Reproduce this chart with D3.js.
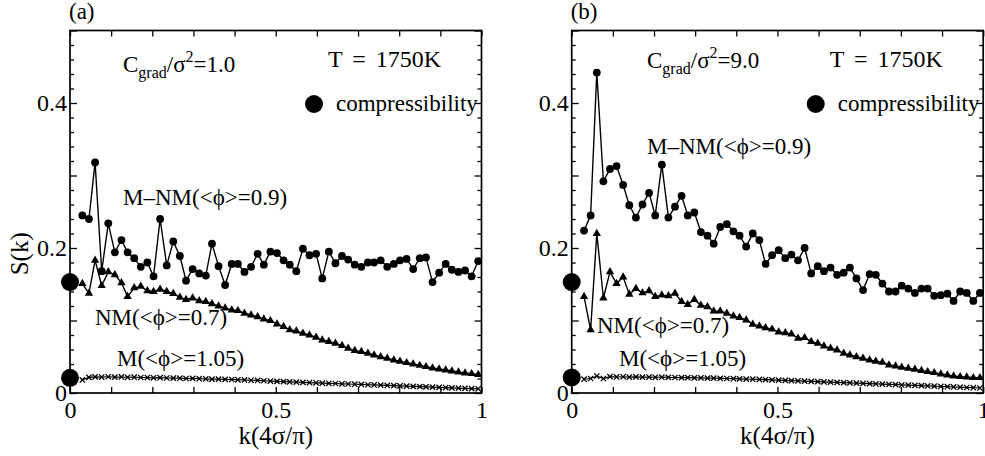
<!DOCTYPE html>
<html>
<head>
<meta charset="utf-8">
<script src="https://cdn.jsdelivr.net/npm/d3@7"></script>
<style>
  body { margin: 0; background: #fff; }
  svg text { font-family: "Liberation Serif", "Times New Roman", serif; fill: #000; }
</style>
</head>
<body>
<svg id="chart" width="985" height="456"></svg>
<script>
// wavenumber grid k (units of 4σ/π)
const kValues = [0.030,0.046,0.061,0.077,0.093,0.109,0.125,0.140,0.156,0.172,
  0.188,0.203,0.219,0.235,0.251,0.267,0.282,0.298,0.314,0.330,
  0.345,0.361,0.377,0.393,0.408,0.424,0.440,0.456,0.471,0.487,
  0.503,0.519,0.534,0.550,0.566,0.582,0.598,0.613,0.629,0.645,
  0.661,0.676,0.692,0.708,0.724,0.739,0.755,0.771,0.787,0.802,
  0.818,0.834,0.850,0.865,0.881,0.897,0.913,0.928,0.944,0.960,
  0.976,0.992];

// S(k), C_grad/σ² = 1.0
const mnmA = [0.245,0.240,0.318,0.168,0.234,0.194,0.211,0.194,0.186,0.174,
  0.180,0.161,0.240,0.176,0.209,0.189,0.155,0.171,0.165,0.162,
  0.206,0.175,0.149,0.178,0.178,0.167,0.174,0.192,0.177,0.195,
  0.193,0.183,0.177,0.168,0.199,0.190,0.192,0.158,0.195,0.179,
  0.189,0.184,0.177,0.174,0.180,0.180,0.183,0.174,0.178,0.183,
  0.185,0.171,0.186,0.187,0.153,0.166,0.178,0.170,0.167,0.169,
  0.161,0.182];
const nmA = [0.151,0.1375,0.183,0.148,0.167,0.163,0.152,0.133,0.145,0.147,
  0.141,0.140,0.143,0.140,0.137,0.132,0.129,0.131,0.127,0.126,
  0.123,0.120,0.117,0.1145,0.1135,0.110,0.1076,0.105,0.102,0.0997,
  0.095,0.0915,0.087,0.0855,0.0823,0.080,0.0768,0.0731,0.0708,0.0685,
  0.0653,0.0616,0.0584,0.057,0.0547,0.0524,0.050,0.0478,0.0455,0.0437,
  0.0418,0.040,0.038,0.0363,0.0345,0.0331,0.0317,0.0303,0.029,0.0276,
  0.0266,0.0253];
const mA = [0.018,0.0215,0.0222,0.0220,0.0224,0.0219,0.0221,0.0217,0.0218,0.0214,
  0.0213,0.0210,0.0211,0.0207,0.0206,0.0204,0.0200,0.0201,0.0197,0.0196,
  0.0192,0.0191,0.0188,0.0186,0.0182,0.0180,0.0176,0.0173,0.0169,0.0165,
  0.0160,0.0157,0.0154,0.0150,0.0147,0.0144,0.0141,0.0137,0.0134,0.0131,
  0.0127,0.0124,0.0121,0.0118,0.0114,0.0111,0.0108,0.0104,0.0101,0.0098,
  0.0095,0.0091,0.0088,0.0085,0.0081,0.0078,0.0075,0.0071,0.0068,0.0065,
  0.0061,0.0058];

// S(k), C_grad/σ² = 9.0
const mnmB = [0.224,0.245,0.442,0.292,0.309,0.313,0.287,0.259,0.242,0.260,
  0.276,0.245,0.315,0.242,0.257,0.272,0.245,0.249,0.222,0.217,
  0.206,0.229,0.233,0.223,0.217,0.202,0.220,0.211,0.178,0.190,
  0.197,0.186,0.191,0.183,0.200,0.165,0.175,0.168,0.173,0.163,
  0.166,0.173,0.158,0.142,0.164,0.163,0.151,0.140,0.140,0.148,
  0.144,0.138,0.144,0.144,0.134,0.135,0.137,0.127,0.140,0.138,
  0.127,0.138];
const nmB = [0.133,0.087,0.220,0.131,0.167,0.151,0.160,0.136,0.144,0.138,
  0.141,0.133,0.135,0.134,0.1375,0.126,0.122,0.129,0.121,0.119,
  0.113,0.113,0.110,0.106,0.104,0.1007,0.0947,0.0924,0.090,0.088,
  0.084,0.083,0.0814,0.0754,0.0763,0.0708,0.0685,0.0648,0.0616,0.0593,
  0.0547,0.0524,0.050,0.0478,0.0455,0.0437,0.0423,0.0386,0.0372,0.0354,
  0.034,0.0327,0.0308,0.0294,0.028,0.0262,0.0248,0.0234,0.0225,0.022,
  0.0211,0.0211];
const mB = [0.019,0.020,0.0234,0.020,0.0225,0.0221,0.0224,0.0220,0.0222,0.0219,
  0.0220,0.0217,0.0218,0.0215,0.0214,0.0212,0.0211,0.0209,0.0208,0.0206,
  0.0204,0.0201,0.0200,0.0197,0.0195,0.0192,0.0190,0.0187,0.0184,0.0181,
  0.0178,0.0174,0.0171,0.0167,0.0164,0.0160,0.0157,0.0153,0.0150,0.0146,
  0.0143,0.0139,0.0136,0.0132,0.0129,0.0125,0.0122,0.0118,0.0115,0.0111,
  0.0108,0.0104,0.0101,0.0097,0.0094,0.0090,0.0087,0.0083,0.0080,0.0076,
  0.0073,0.0069];

// S(0) from the compressibility route
const compressibilityA = [0.153, 0.021];
const compressibilityB = [0.153, 0.0215];

// axis ticks
const xMajorTicks = [0,0.1,0.2,0.3,0.4,0.5,0.6,0.7,0.8,0.9,1];
const xTickLabels = {0: "0", 0.5: "0.5", 1: "1"};
const yMajorTicks = [0,0.1,0.2,0.3,0.4,0.5];
const yMinorTicks = [0.02,0.04,0.06,0.08,0.12,0.14,0.16,0.18,0.22,0.24,0.26,0.28,0.32,0.34,0.36,0.38,0.42,0.44,0.46,0.48];
const yTickLabels = {0: "0", 0.2: "0.2", 0.4: "0.4"};

const panels = [
  { tag: "(a)", left: 70, cgrad: "1.0", mnm: mnmA, nm: nmA, m: mA, comp: compressibilityA,
    cLabel: [123, 72], mnmLabel: [123, 205], nmLabel: [95, 325], mLabel: [117, 366], yTitle: true },
  { tag: "(b)", left: 571.7, cgrad: "9.0", mnm: mnmB, nm: nmB, m: mB, comp: compressibilityB,
    cLabel: [647, 68], mnmLabel: [647, 154], nmLabel: [597, 333], mLabel: [619, 366], yTitle: false }
];

const W = 411.5, yTop = 30.5, yBottom = 393;
const FS = 23;        // annotation text
const TICK_FS = 24;   // tick labels
const TITLE_FS = 25;  // axis titles
const svg = d3.select("#chart");

function styleText(sel, size) {
  sel.selectAll("text")
    .attr("font-family", "'Liberation Serif', 'Times New Roman', serif")
    .attr("font-size", size).attr("fill", "#000");
}

panels.forEach(p => {
  const x = d3.scaleLinear().domain([0, 1]).range([p.left, p.left + W]);
  const y = d3.scaleLinear().domain([0, 0.5]).range([yBottom, yTop]);
  const g = svg.append("g");

  // bottom axis with labels
  const bx = g.append("g").attr("transform", `translate(0,${yBottom})`)
    .call(d3.axisBottom(x).tickValues(xMajorTicks).tickSize(-6).tickSizeOuter(0).tickPadding(8)
      .tickFormat(d => xTickLabels[d] ?? ""));
  // top axis
  const tx = g.append("g").attr("transform", `translate(0,${yTop})`)
    .call(d3.axisTop(x).tickValues(xMajorTicks).tickSize(-6).tickSizeOuter(0).tickFormat(""));
  // left axis
  const ly = g.append("g").attr("transform", `translate(${p.left},0)`)
    .call(d3.axisLeft(y).tickValues(yMajorTicks).tickSize(-7).tickSizeOuter(0).tickPadding(3)
      .tickFormat(d => yTickLabels[d] ?? ""));
  const lyMinor = g.append("g").attr("transform", `translate(${p.left},0)`)
    .call(d3.axisLeft(y).tickValues(yMinorTicks).tickSize(-4).tickSizeOuter(0).tickFormat(""));
  // right axis
  const ry = g.append("g").attr("transform", `translate(${p.left + W},0)`)
    .call(d3.axisRight(y).tickValues(yMajorTicks).tickSize(-7).tickSizeOuter(0).tickFormat(""));
  const ryMinor = g.append("g").attr("transform", `translate(${p.left + W},0)`)
    .call(d3.axisRight(y).tickValues(yMinorTicks).tickSize(-4).tickSizeOuter(0).tickFormat(""));

  [bx, tx, ly, lyMinor, ry, ryMinor].forEach(a => {
    a.select(".domain").remove();
    a.selectAll("line").attr("stroke", "#000").attr("stroke-width", 1.3);
    styleText(a, TICK_FS);
  });

  // frame
  g.append("rect").attr("x", p.left).attr("y", yTop).attr("width", W).attr("height", yBottom - yTop)
    .attr("fill", "none").attr("stroke", "#000").attr("stroke-width", 1.7);

  const line = d3.line().x((d, i) => x(kValues[i])).y(d => y(d));

  // M–NM: circles
  g.append("path").datum(p.mnm).attr("d", line).attr("fill", "none").attr("stroke", "#000").attr("stroke-width", 1.4);
  g.append("g").selectAll("circle").data(p.mnm).join("circle")
    .attr("cx", (d, i) => x(kValues[i])).attr("cy", d => y(d)).attr("r", 3.9).attr("fill", "#000");

  // NM: triangles
  g.append("path").datum(p.nm).attr("d", line).attr("fill", "none").attr("stroke", "#000").attr("stroke-width", 1.4);
  const tri = d3.symbol().type(d3.symbolTriangle).size(30);
  g.append("g").selectAll("path").data(p.nm).join("path")
    .attr("d", tri).attr("transform", (d, i) => `translate(${x(kValues[i])},${y(d)})`).attr("fill", "#000");

  // M: crosses
  g.append("path").datum(p.m).attr("d", line).attr("fill", "none").attr("stroke", "#000").attr("stroke-width", 1.2);
  const cross = d3.symbol().type(d3.symbolX).size(20);
  g.append("g").selectAll("path").data(p.m).join("path")
    .attr("d", cross).attr("transform", (d, i) => `translate(${x(kValues[i])},${y(d)})`)
    .attr("fill", "none").attr("stroke", "#000").attr("stroke-width", 1.3);

  // compressibility values at k = 0
  g.append("g").selectAll("circle").data(p.comp).join("circle")
    .attr("cx", x(0)).attr("cy", d => y(d)).attr("r", 9).attr("fill", "#000");

  // legend
  g.append("circle").attr("cx", p.left + 244).attr("cy", 104).attr("r", 9).attr("fill", "#000");
  g.append("text").attr("x", p.left + 266).attr("y", 111).attr("font-size", FS).text("compressibility");

  // annotations
  g.append("text").attr("x", p.left - 1).attr("y", 19).attr("font-size", FS).text(p.tag);
  g.append("text").attr("x", p.left + 258).attr("y", 67).attr("font-size", 24)
    .attr("word-spacing", 4).text("T = 1750K");

  const c = g.append("text").attr("x", p.cLabel[0]).attr("y", p.cLabel[1]).attr("font-size", FS);
  c.append("tspan").text("C");
  c.append("tspan").attr("font-size", 16).attr("dy", 6).text("grad");
  c.append("tspan").attr("dy", -6).text("/σ");
  c.append("tspan").attr("font-size", 16).attr("dy", -10).text("2");
  c.append("tspan").attr("dy", 10).text("=" + p.cgrad);

  g.append("text").attr("x", p.mnmLabel[0]).attr("y", p.mnmLabel[1]).attr("font-size", FS).text("M–NM(<ϕ>=0.9)");
  g.append("text").attr("x", p.nmLabel[0]).attr("y", p.nmLabel[1]).attr("font-size", FS).text("NM(<ϕ>=0.7)");
  g.append("text").attr("x", p.mLabel[0]).attr("y", p.mLabel[1]).attr("font-size", FS).text("M(<ϕ>=1.05)");

  // axis titles
  g.append("text").attr("x", p.left + W / 2).attr("y", 444).attr("text-anchor", "middle")
    .attr("font-size", TITLE_FS).text("k(4σ/π)");
  if (p.yTitle) {
    g.append("text").attr("transform", `translate(28,${(yTop + yBottom) / 2 + 42}) rotate(-90)`)
      .attr("text-anchor", "middle").attr("font-size", TITLE_FS).text("S(k)");
  }
});
</script>
</body>
</html>
